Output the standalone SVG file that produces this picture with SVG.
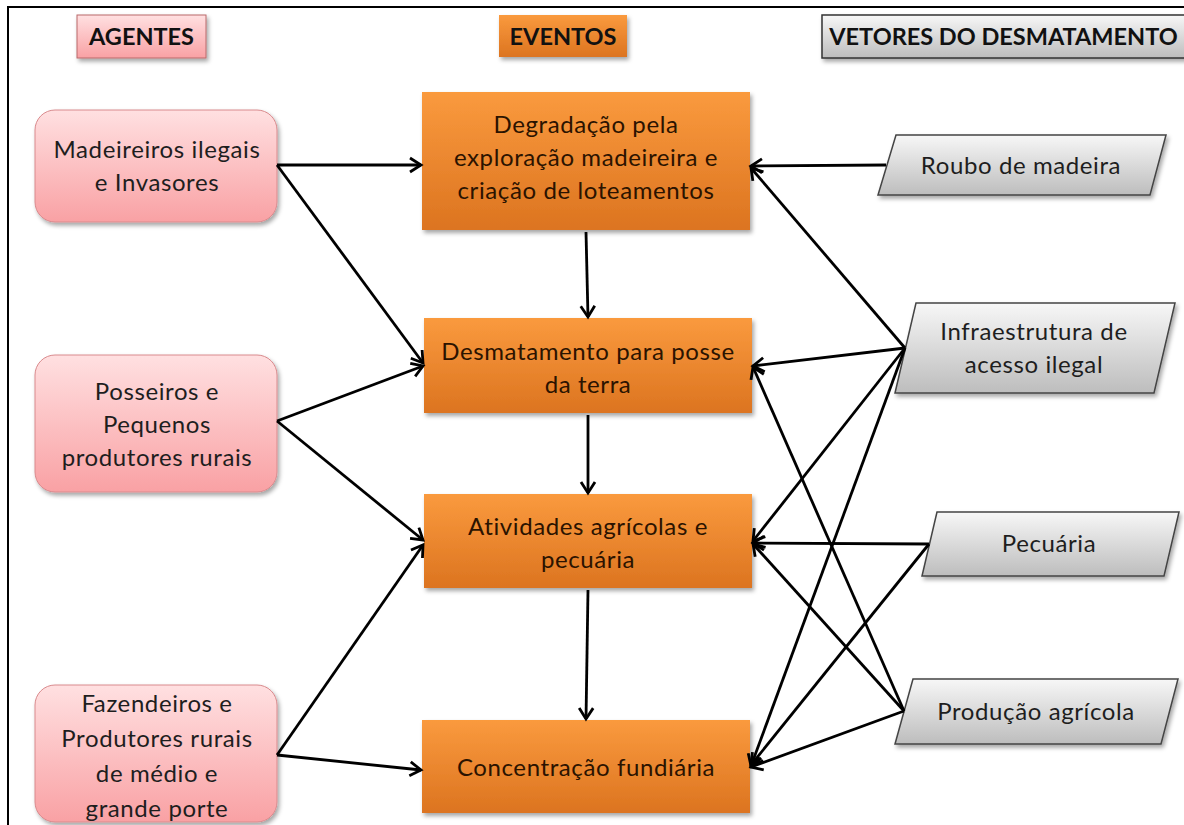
<svg xmlns="http://www.w3.org/2000/svg" width="1184" height="825" viewBox="0 0 1184 825">
<style>
.t{font-family:Lato,"Open Sans","Liberation Sans",sans-serif;font-size:24px;letter-spacing:0.6px;fill:#1e1e1e;text-anchor:middle}
.to{fill:#2b1300}
.h{font-family:Lato,"Liberation Sans",sans-serif;font-weight:bold;font-size:23.5px;fill:#111;text-anchor:middle}
.pink{fill:url(#gPink);stroke:#d98a8d;stroke-width:1}
.orange{fill:url(#gOrange)}
.gray{fill:url(#gGray);stroke:#444;stroke-width:1.5}
.c line{stroke:#000;stroke-width:2.8;marker-end:url(#arr)}
</style>
<defs>
<linearGradient id="gPink" x1="0" y1="0" x2="0" y2="1">
<stop offset="0" stop-color="#ffe0e1"/><stop offset="1" stop-color="#f9a1a4"/>
</linearGradient>
<linearGradient id="gOrange" x1="0" y1="0" x2="0" y2="1">
<stop offset="0" stop-color="#fa9a3e"/><stop offset="1" stop-color="#dc7420"/>
</linearGradient>
<linearGradient id="gGray" x1="0" y1="0" x2="0" y2="1">
<stop offset="0" stop-color="#f7f7f7"/><stop offset="1" stop-color="#bdbdbd"/>
</linearGradient>
<filter id="sh" x="-10%" y="-10%" width="125%" height="130%">
<feDropShadow dx="2" dy="3" stdDeviation="2.2" flood-color="#000" flood-opacity="0.35"/>
</filter>
<marker id="arr" markerUnits="userSpaceOnUse" markerWidth="16" markerHeight="18" refX="13" refY="9" orient="auto">
<path d="M2,2 L13,9 L2,16" fill="none" stroke="#000" stroke-width="2.8" stroke-linejoin="miter"/>
</marker>
</defs>
<rect width="1184" height="825" fill="#fff"/>
<path d="M8,825 L8,7 L1184,7" fill="none" stroke="#000" stroke-width="2"/>

<g id="h-agentes">
<rect class="pink" x="77" y="15" width="129" height="43" filter="url(#sh)" style="stroke:#b9686b"/>
<text class="h" x="141.5" y="45">AGENTES</text>
</g>
<g id="h-eventos">
<rect class="orange" x="499" y="15" width="128" height="42" filter="url(#sh)"/>
<text class="h" x="563" y="45">EVENTOS</text>
</g>
<g id="h-vetores">
<rect class="gray" x="822" y="15" width="380" height="43" filter="url(#sh)" style="stroke:#333"/>
<text class="h" x="1003.5" y="45">VETORES DO DESMATAMENTO</text>
</g>

<g id="a-madeireiros">
<rect class="pink" x="35" y="110" width="242" height="112" rx="20" filter="url(#sh)"/>
<text class="t" x="157" y="158">Madeireiros ilegais</text>
<text class="t" x="157" y="191">e Invasores</text>
</g>
<g id="a-posseiros">
<rect class="pink" x="35" y="355" width="242" height="137" rx="20" filter="url(#sh)"/>
<text class="t" x="157" y="400">Posseiros e</text>
<text class="t" x="157" y="433">Pequenos</text>
<text class="t" x="157" y="466">produtores rurais</text>
</g>
<g id="a-fazendeiros">
<rect class="pink" x="35" y="685" width="242" height="137" rx="20" filter="url(#sh)"/>
<text class="t" x="157" y="712">Fazendeiros e</text>
<text class="t" x="157" y="747">Produtores rurais</text>
<text class="t" x="157" y="782">de médio e</text>
<text class="t" x="157" y="817">grande porte</text>
</g>

<g id="e-degradacao">
<rect class="orange" x="422" y="92" width="328" height="138" filter="url(#sh)"/>
<text class="t to" x="586" y="133">Degradação pela</text>
<text class="t to" x="586" y="166">exploração madeireira e</text>
<text class="t to" x="586" y="199">criação de loteamentos</text>
</g>
<g id="e-desmatamento">
<rect class="orange" x="424" y="318" width="328" height="95" filter="url(#sh)"/>
<text class="t to" x="588" y="360">Desmatamento para posse</text>
<text class="t to" x="588" y="393">da terra</text>
</g>
<g id="e-atividades">
<rect class="orange" x="424" y="494" width="328" height="94" filter="url(#sh)"/>
<text class="t to" x="588" y="535">Atividades agrícolas e</text>
<text class="t to" x="588" y="568">pecuária</text>
</g>
<g id="e-concentracao">
<rect class="orange" x="422" y="720" width="328" height="93" filter="url(#sh)"/>
<text class="t to" x="586" y="776">Concentração fundiária</text>
</g>

<g id="v-roubo">
<path class="gray" d="M896,135 L1166,135 L1150,195 L878,195 Z" filter="url(#sh)"/>
<text class="t" x="1021" y="174">Roubo de madeira</text>
</g>
<g id="v-infra">
<path class="gray" d="M916,303 L1175,303 L1154,393 L895,393 Z" filter="url(#sh)"/>
<text class="t" x="1034" y="340">Infraestrutura de</text>
<text class="t" x="1034" y="373">acesso ilegal</text>
</g>
<g id="v-pecuaria">
<path class="gray" d="M937,512 L1179,512 L1164,576 L922,576 Z" filter="url(#sh)"/>
<text class="t" x="1049" y="552">Pecuária</text>
</g>
<g id="v-producao">
<path class="gray" d="M913,679 L1178,679 L1161,744 L895,744 Z" filter="url(#sh)"/>
<text class="t" x="1036" y="720">Produção agrícola</text>
</g>

<g id="connectors" class="c">
<line x1="277" y1="165" x2="421" y2="165"/>
<line x1="277" y1="165" x2="423" y2="363"/>
<line x1="277" y1="421" x2="423" y2="366"/>
<line x1="277" y1="421" x2="423" y2="540"/>
<line x1="277" y1="755" x2="423" y2="545"/>
<line x1="277" y1="755" x2="421" y2="770"/>
<line x1="586" y1="232" x2="588" y2="317"/>
<line x1="588" y1="415" x2="588" y2="493"/>
<line x1="588" y1="590" x2="586" y2="719"/>
<line x1="886" y1="165" x2="751" y2="166"/>
<line x1="905" y1="348" x2="751" y2="168"/>
<line x1="905" y1="348" x2="753" y2="366"/>
<line x1="905" y1="348" x2="753" y2="541"/>
<line x1="905" y1="348" x2="751" y2="766"/>
<line x1="929" y1="544" x2="753" y2="543"/>
<line x1="929" y1="544" x2="751" y2="765"/>
<line x1="904" y1="711" x2="753" y2="367"/>
<line x1="904" y1="711" x2="753" y2="544"/>
<line x1="904" y1="711" x2="751" y2="767"/>
</g>
</svg>
